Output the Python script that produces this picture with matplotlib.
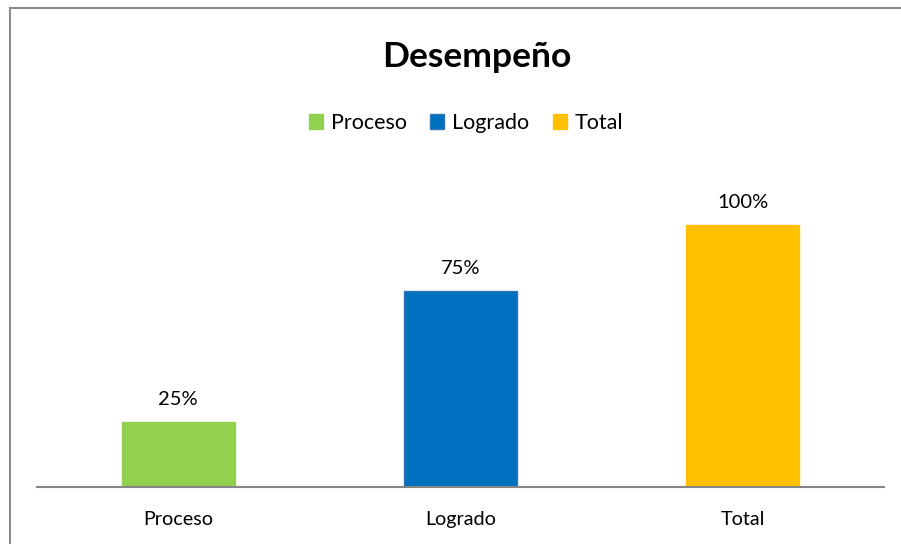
import numpy as np
import matplotlib.pyplot as plt
from matplotlib.patches import Rectangle
from matplotlib.lines import Line2D

plt.rcParams['font.family'] = ['Lato', 'DejaVu Sans']

# data
categories = ['Proceso', 'Logrado', 'Total']
values = [0.25, 0.75, 1.00]
labels = ['25%', '75%', '100%']
colors = ['#92D050', '#0070C0', '#FFC000']
edges = ['#92D050', '#2E75B6', '#FFC000']

fig = plt.figure(figsize=(9.01, 5.44), dpi=100)
ax = fig.add_axes([37/901, 1-487/544, 847/901, 314.4/544])

x = np.arange(len(categories))
bars = ax.bar(x, values, width=0.4, color=colors, edgecolor=edges, linewidth=1, zorder=2)
for b, lab in zip(bars, labels):
    ax.annotate(lab, (b.get_x() + b.get_width()/2, b.get_height()),
                xytext=(0, 10), textcoords='offset points',
                ha='center', va='bottom', fontsize=14.5)

ax.set_xlim(-0.5, 2.5)
ax.set_ylim(0, 1.2)
ax.set_xticks(x)
ax.set_xticklabels(categories, fontsize=14.2)
ax.tick_params(axis='x', length=0, pad=17)
ax.set_yticks([])
for s in ['top', 'right', 'left']:
    ax.spines[s].set_visible(False)
ax.spines['bottom'].set_color('#868686')
ax.spines['bottom'].set_linewidth(1.5)

fig.text(477/901, 1-57/544, 'Desempeño', ha='center', va='center',
         fontsize=25.5, fontweight='bold')

handles = [Rectangle((0, 0), 1, 1, facecolor=c, edgecolor=e) for c, e in zip(colors, edges)]
fig.legend(handles, categories, loc='center', bbox_to_anchor=(466/901, 1-123/544),
           ncol=3, frameon=False, fontsize=15.5, handlelength=0.65, handleheight=0.65,
           handletextpad=0.35, columnspacing=1.1)

# chart border (only top and left edges are inside the picture)
bx, by = 9.5/901, 1-7.5/544
fig.add_artist(Line2D([bx, 1], [by, by], transform=fig.transFigure, color='#8C8C8C', lw=1.5))
fig.add_artist(Line2D([bx, bx], [0, by], transform=fig.transFigure, color='#8C8C8C', lw=1.5))

fig.savefig('out.png', dpi=100)
